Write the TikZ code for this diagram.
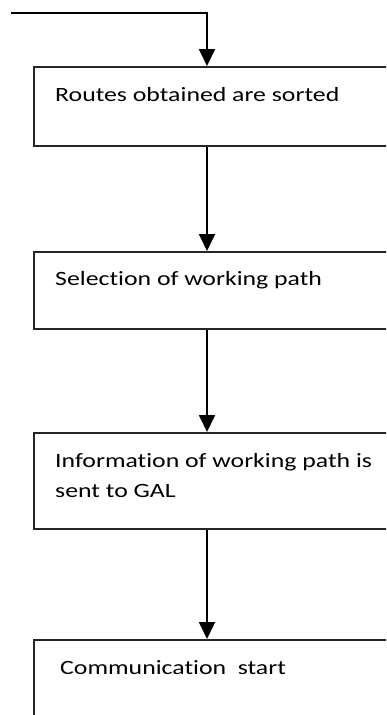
\documentclass[tikz,border=0pt]{standalone}
\usepackage{fontspec}
\setmainfont[FakeStretch=1.27,Ligatures={NoCommon}]{Carlito}
\usetikzlibrary{arrows.meta}
\begin{document}
\begin{tikzpicture}[x=1pt,y=1pt,
  box/.style={draw=black!85,line width=2.2pt,anchor=north west,minimum width=400pt,inner sep=0pt},
  txt/.style={anchor=base west,inner sep=0pt,font=\fontsize{20.3pt}{24pt}\selectfont},
  flow/.style={line width=1.8pt,-{Triangle[width=16pt,length=17pt]}}]
\useasboundingbox (0,0) rectangle (386,-715);
\clip (0,0) rectangle (386,-715);
\node[box,minimum height=79pt] (b1) at (33,-66) {};
\node[box,minimum height=77pt] (b2) at (33,-251) {};
\node[box,minimum height=96pt] (b3) at (33,-432) {};
\node[box,minimum height=120pt] (b4) at (33,-639) {};
\node[txt] (t1) at (55,-101) {Routes obtained are sorted};
\node[txt] (t2) at (55,-285) {Selection of working path};
\node[txt] (t3) at (55,-467) {Information of working path is};
\node[txt] (t3b) at (55,-497) {sent to GAL};
\node[txt] (t4) at (60,-674) {Communication\ \ start};
\coordinate (start) at (11,-13);
\coordinate (axis) at (207,-13);
\draw[flow] (start) -- (axis) -- (axis |- b1.north);
\draw[flow] (axis |- b1.south) -- (axis |- b2.north);
\draw[flow] (axis |- b2.south) -- (axis |- b3.north);
\draw[flow] (axis |- b3.south) -- (axis |- b4.north);
\end{tikzpicture}
\end{document}
